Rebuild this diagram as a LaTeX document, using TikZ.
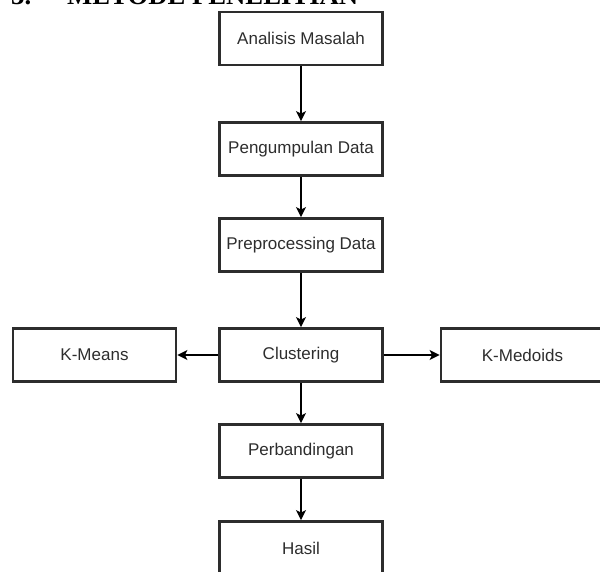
\documentclass[tikz,border=0pt]{standalone}
\usepackage{fontspec}
\setmainfont{Liberation Sans}
\newfontfamily\headfont{Liberation Serif}
\usetikzlibrary{arrows.meta}
\definecolor{boxgray}{RGB}{45,45,45}

\begin{document}
\begin{tikzpicture}[x=1pt,y=-1pt,
  proc/.style={draw=boxgray, line width=2.8pt, minimum width=163pt, minimum height=53pt,
    inner sep=0pt, text=boxgray, font=\fontsize{17}{20}\selectfont},
  flow/.style={-{Stealth[length=10pt,width=10pt,inset=2.5pt]}, line width=1.3pt}]
\clip (0,0) rectangle (600,572);
\useasboundingbox (0,0) rectangle (600,572);
% Section heading, cut at the top of the page
\node[anchor=base west, inner sep=0pt, font=\headfont\bfseries\fontsize{26.7}{30}\selectfont] (nomor) at (11,5) {3.};
\node[anchor=base west, inner sep=0pt, font=\headfont\bfseries\fontsize{26.7}{30}\selectfont] (judul) at (67,5) {METODE PENELITIAN};

% Research steps
\node[proc] (analisis) at (301,38.5) {Analisis Masalah};
\node[proc] (kumpul) at (301,149) {Pengumpulan Data};
\node[proc] (prepro) at (301,245) {Preprocessing Data};
\node[proc] (cluster) at (301,355) {Clustering};
\node[proc] (banding) at (301,451) {Perbandingan};
\node[proc] (hasil) at (301,548) {Hasil};
\node[proc] (kmeans) at (94.5,355) {K-Means};
\node[proc] (kmedoids) at (522.5,355) {K-Medoids};

\draw[flow] (analisis) -- (kumpul);
\draw[flow] (kumpul) -- (prepro);
\draw[flow] (prepro) -- (cluster);
\draw[flow] (cluster) -- (kmeans);
\draw[flow] (cluster) -- (kmedoids);
\draw[flow] (cluster) -- (banding);
\draw[flow] (banding) -- (hasil);
\end{tikzpicture}
\end{document}
